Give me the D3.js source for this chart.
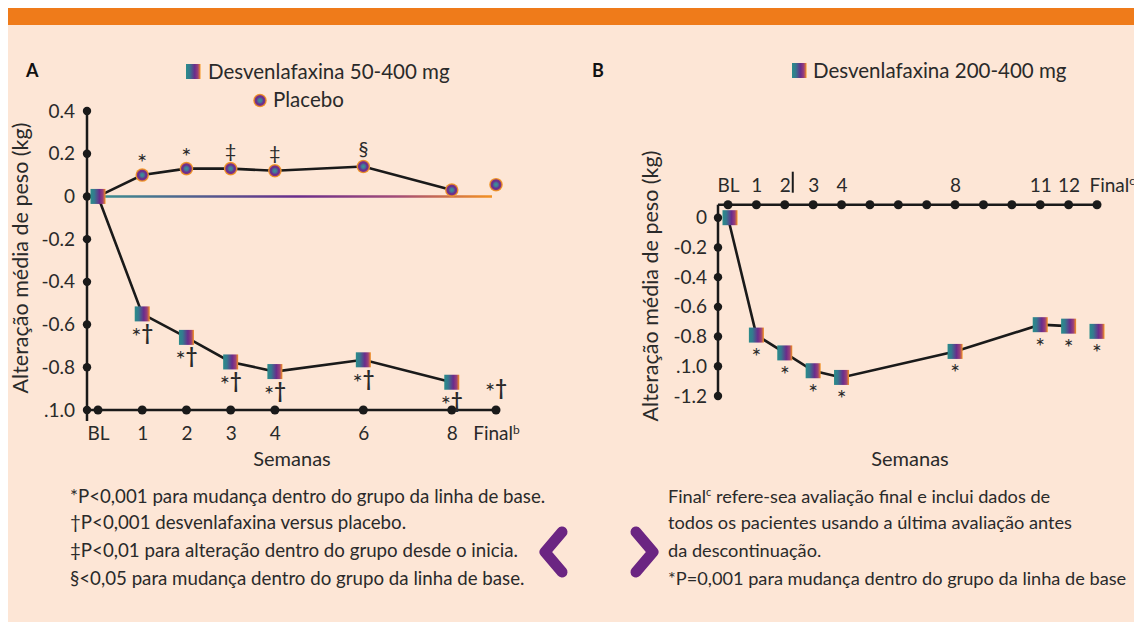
<!DOCTYPE html>
<html><head><meta charset="utf-8">
<script src="https://cdn.jsdelivr.net/npm/d3@7/dist/d3.min.js"></script>
<style>
html,body{margin:0;padding:0;background:#fff;}
svg{display:block;font-family:Lato,"Noto Sans",sans-serif;}
</style></head>
<body>
<svg id="c" width="1134" height="623"></svg>
<script>
// ---------- DATA ----------
// Panel A
const catPosA = [0, 1, 2, 3, 4, 6, 8, 9];
const catLabelsA = ["BL", "1", "2", "3", "4", "6", "8", "Final"];
const yTicksA = [0.4, 0.2, 0, -0.2, -0.4, -0.6, -0.8, -1.0];
const yTickLabelsA = ["0.4", "0.2", "0", "-0.2", "-0.4", "-0.6", "-0.8", ".1.0"];
const desvPosA = [0, 1, 2, 3, 4, 6, 8];
const desvValA = [0, -0.55, -0.66, -0.775, -0.82, -0.765, -0.87];
const desvNoteA = ["", "*†", "*†", "*†", "*†", "*†", "*†"];
const desvFinalNoteA = { pos: 9, value: -0.81, text: "*†" };
const placPosA = [0, 1, 2, 3, 4, 6, 8];
const placValA = [0, 0.10, 0.13, 0.13, 0.12, 0.14, 0.03];
const placNoteA = ["", "*", "*", "‡", "‡", "§", ""];
const placFinalA = { pos: 9, value: 0.055 };
// Panel B
const tickPosB = [0,1,2,3,4,5,6,7,8,9,10,11,12,13];
const labelPosB = [0, 1, 2, 3, 4, 8, 11, 12, 13];
const labelTextB = ["BL", "1", "2", "3", "4", "8", "11", "12", "Final"];
const yTicksB = [0, -0.2, -0.4, -0.6, -0.8, -1.0, -1.2];
const yTickLabelsB = ["0", "-0.2", "-0.4", "-0.6", "-0.8", ".1.0", "-1.2"];
const desvPosB = [0, 1, 2, 3, 4, 8, 11, 12];
const desvValB = [0, -0.79, -0.91, -1.03, -1.075, -0.90, -0.72, -0.73];
const desvNoteB = ["", "*", "*", "*", "*", "*", "*", "*"];
const desvFinalB = { pos: 13, value: -0.765, text: "*" };
// Texts
const legendA = ["Desvenlafaxina 50-400 mg", "Placebo"];
const legendB = "Desvenlafaxina 200-400 mg";
const yTitle = "Alteração média de peso (kg)";
const xTitle = "Semanas";
const notesA = [
  "*P<0,001 para mudança dentro do grupo da linha de base.",
  "†P<0,001 desvenlafaxina versus placebo.",
  "‡P<0,01 para alteração dentro do grupo desde o inicia.",
  "§<0,05 para mudança dentro do grupo da linha de base."
];
const notesB = [
  ["Final", "c", " refere-sea avaliação final e inclui dados de"],
  ["todos os pacientes usando a última avaliação antes"],
  ["da descontinuação."],
  ["*P=0,001 para mudança dentro do grupo da linha de base"]
];

// ---------- DRAW ----------
const svg = d3.select("#c");
const W = 1134, H = 623;
const ink = "#1a1a1a", txt = "#2a2a2a";

const defs = svg.append("defs");
const sq = defs.append("linearGradient").attr("id","sqg").attr("x1","0").attr("x2","1").attr("y1","0").attr("y2","0");
[[0,"#2a8c8a"],[0.25,"#347a8e"],[0.6,"#6a2c8c"],[0.82,"#9a4079"],[1,"#f6941e"]].forEach(s=>sq.append("stop").attr("offset",s[0]).attr("stop-color",s[1]));
const cg = defs.append("radialGradient").attr("id","cg");
[[0,"#3a9a90"],[0.3,"#46739a"],[0.55,"#6a2d8c"],[0.72,"#7a3286"],[0.84,"#e08430"],[1,"#f7a232"]].forEach(s=>cg.append("stop").attr("offset",s[0]).attr("stop-color",s[1]));

// background
svg.append("rect").attr("x",8).attr("y",8).attr("width",W-8).attr("height",614).attr("fill","#fde6d6");
svg.append("rect").attr("x",8).attr("y",8).attr("width",W-8).attr("height",17).attr("fill","#ef7b1a");

// ===== Panel A =====
const xA = d3.scaleLinear().domain([0, 9]).range([98, 496]);
const yA = d3.scaleLinear().domain([-1.0, 0.4]).range([410, 111]);
const axXA = 87;
const gA = svg.append("g");

const blg = defs.append("linearGradient").attr("id","blg").attr("gradientUnits","userSpaceOnUse")
  .attr("x1", xA(0)).attr("x2", xA(9)).attr("y1",0).attr("y2",0);
[[0,"#3a8f8f"],[0.5,"#6a2d8c"],[0.75,"#a34c78"],[1,"#f7941d"]].forEach(s=>blg.append("stop").attr("offset",s[0]).attr("stop-color",s[1]));

gA.append("line").attr("x1",axXA).attr("x2",axXA).attr("y1",yA(0.4)).attr("y2",yA(-1.0)+11).attr("stroke",ink).attr("stroke-width",2.5);
gA.append("line").attr("x1",axXA).attr("x2",xA(9)).attr("y1",yA(-1.0)).attr("y2",yA(-1.0)).attr("stroke",ink).attr("stroke-width",2.5);
const yAxA = gA.append("g").attr("transform",`translate(${axXA},0)`)
  .call(d3.axisLeft(yA).tickValues(yTicksA).tickFormat((d,i)=>yTickLabelsA[i]).tickSize(0).tickPadding(12));
yAxA.select(".domain").remove();
yAxA.selectAll("text").attr("font-size",19).attr("fill",txt).attr("font-family","Lato");
gA.selectAll(".ydA").data(yTicksA).join("circle").attr("cx",axXA).attr("cy",d=>yA(d)).attr("r",4.2).attr("fill",ink);
const xAxA = gA.append("g").attr("transform",`translate(0,${yA(-1.0)})`)
  .call(d3.axisBottom(xA).tickValues(catPosA).tickFormat((d,i)=>catLabelsA[i]).tickSize(0).tickPadding(17));
xAxA.select(".domain").remove();
xAxA.selectAll("text").attr("font-size",19).attr("fill",txt).attr("font-family","Lato");
xAxA.selectAll("text").filter((d,i)=>catLabelsA[i]==="Final").append("tspan").attr("font-size",12).attr("dy","-0.55em").text("b");
gA.selectAll(".xdA").data(catPosA).join("circle").attr("cx",d=>xA(d)).attr("cy",yA(-1.0)).attr("r",4.5).attr("fill",ink);

gA.append("line").attr("x1",xA(0)).attr("x2",xA(9)-4).attr("y1",yA(0)).attr("y2",yA(0)).attr("stroke","url(#blg)").attr("stroke-width",2.5);

const line = d3.line();
gA.append("path").attr("d", line(placPosA.map((p,i)=>[xA(p), yA(placValA[i])]))).attr("fill","none").attr("stroke",ink).attr("stroke-width",2.6);
gA.append("path").attr("d", line(desvPosA.map((p,i)=>[xA(p), yA(desvValA[i])]))).attr("fill","none").attr("stroke",ink).attr("stroke-width",2.6);

const plA = placPosA.map((p,i)=>({p, v:placValA[i], n:placNoteA[i]})).filter(d=>d.p>0);
plA.push({p:placFinalA.pos, v:placFinalA.value, n:""});
gA.selectAll(".pc").data(plA).join("circle").attr("cx",d=>xA(d.p)).attr("cy",d=>yA(d.v)).attr("r",6.8).attr("fill","url(#cg)");
gA.selectAll(".pn").data(plA.filter(d=>d.n)).join("text").attr("x",d=>xA(d.p)).attr("y",d=>yA(d.v)-(d.n==="*"?4:11))
  .attr("text-anchor","middle").attr("font-size",d=>d.n==="*"?24:20).attr("fill",txt).text(d=>d.n);

const dsA = desvPosA.map((p,i)=>({p, v:desvValA[i], n:desvNoteA[i]}));
gA.selectAll(".ds").data(dsA).join("rect").attr("x",d=>xA(d.p)-7.5).attr("y",d=>yA(d.v)-7.5).attr("width",15).attr("height",15).attr("fill","url(#sqg)");
const notesDA = dsA.filter(d=>d.n).concat([{p:desvFinalNoteA.pos, v:desvFinalNoteA.value, n:desvFinalNoteA.text}]);
gA.selectAll(".dn").data(notesDA).join("text").attr("x",d=>xA(d.p)).attr("y",d=>yA(d.v)+26)
  .attr("text-anchor","middle").attr("fill",txt)
  .each(function(d){
    const t = d3.select(this);
    t.append("tspan").attr("font-size",24).attr("dy",5).text("*");
    t.append("tspan").attr("font-size",20).attr("font-weight","bold").attr("dy",-5).text("†");
  });

gA.append("text").attr("x",26).attr("y",77).attr("font-size",18).attr("font-weight","bold").attr("fill","#111").text("A");
gA.append("text").attr("transform",`translate(28,258) rotate(-90)`).attr("text-anchor","middle").attr("font-size",21.5).attr("fill",txt).text(yTitle);
gA.append("text").attr("x",292).attr("y",466).attr("text-anchor","middle").attr("font-size",20).attr("fill",txt).text(xTitle);
gA.append("rect").attr("x",186).attr("y",64).attr("width",14.5).attr("height",15).attr("fill","url(#sqg)");
gA.append("text").attr("x",208).attr("y",78.5).attr("font-size",20.5).attr("fill",txt).text(legendA[0]);
gA.append("circle").attr("cx",260).attr("cy",100.5).attr("r",6.8).attr("fill","url(#cg)");
gA.append("text").attr("x",273).attr("y",107).attr("font-size",20.5).attr("fill",txt).text(legendA[1]);

// ===== Panel B =====
const xB = d3.scaleLinear().domain([0, 13]).range([728, 1097]);
const yB = d3.scaleLinear().domain([-1.2, 0]).range([396, 217.7]);
const axXB = 718, axYB = yB(0) - 13;
const gB = svg.append("g");
gB.append("line").attr("x1",axXB).attr("x2",axXB).attr("y1",axYB).attr("y2",yB(-1.2)).attr("stroke",ink).attr("stroke-width",2.5);
gB.append("line").attr("x1",axXB).attr("x2",xB(13)).attr("y1",axYB).attr("y2",axYB).attr("stroke",ink).attr("stroke-width",2.5);
const yAxB = gB.append("g").attr("transform",`translate(${axXB},0)`)
  .call(d3.axisLeft(yB).tickValues(yTicksB).tickFormat((d,i)=>yTickLabelsB[i]).tickSize(0).tickPadding(11));
yAxB.select(".domain").remove();
yAxB.selectAll("text").attr("font-size",19).attr("fill",txt).attr("font-family","Lato");
gB.selectAll(".ydB").data(yTicksB).join("circle").attr("cx",axXB).attr("cy",d=>yB(d)).attr("r",4.2).attr("fill",ink);
gB.selectAll(".xdB").data(tickPosB).join("circle").attr("cx",d=>xB(d)).attr("cy",axYB).attr("r",4.5).attr("fill",ink);
const xAxB = gB.append("g").attr("transform",`translate(0,${axYB})`)
  .call(d3.axisTop(xB).tickValues(labelPosB).tickFormat((d,i)=>labelTextB[i]).tickSize(0).tickPadding(13));
xAxB.select(".domain").remove();
xAxB.selectAll("text").attr("font-size",19).attr("fill",txt).attr("font-family","Lato");
const finB = xAxB.selectAll("text").filter((d,i)=>labelTextB[i]==="Final").attr("text-anchor","start").attr("dx",-8);
finB.append("tspan").attr("font-size",12).attr("dy","-0.55em").text("c");
gB.append("line").attr("x1",xB(2)+8).attr("x2",xB(2)+8).attr("y1",axYB-33).attr("y2",axYB-12).attr("stroke",ink).attr("stroke-width",2);

gB.append("path").attr("d", line(desvPosB.map((p,i)=>[xB(p), yB(desvValB[i])]))).attr("fill","none").attr("stroke",ink).attr("stroke-width",2.6);
const dsB = desvPosB.map((p,i)=>({p, v:desvValB[i], n:desvNoteB[i]}));
dsB.push({p:desvFinalB.pos, v:desvFinalB.value, n:desvFinalB.text});
gB.selectAll(".dsb").data(dsB).join("rect").attr("x",d=>xB(d.p)-7.5+(d.p===0?2:0)).attr("y",d=>yB(d.v)-7.5).attr("width",15).attr("height",15).attr("fill","url(#sqg)");
gB.selectAll(".dnb").data(dsB.filter(d=>d.n)).join("text").attr("x",d=>xB(d.p)).attr("y",d=>yB(d.v)+30)
  .attr("text-anchor","middle").attr("font-size",23).attr("fill",txt).text(d=>d.n);

gB.append("text").attr("x",592).attr("y",77).attr("font-size",18).attr("font-weight","bold").attr("fill","#111").text("B");
gB.append("text").attr("transform",`translate(658,286) rotate(-90)`).attr("text-anchor","middle").attr("font-size",21.5).attr("fill",txt).text(yTitle);
gB.append("text").attr("x",910).attr("y",466).attr("text-anchor","middle").attr("font-size",20).attr("fill",txt).text(xTitle);
gB.append("rect").attr("x",792).attr("y",63).attr("width",14.5).attr("height",15).attr("fill","url(#sqg)");
gB.append("text").attr("x",813).attr("y",78).attr("font-size",20.5).attr("fill",txt).text(legendB);

// ===== Footnotes =====
const fy = [503, 529, 557, 585];
svg.selectAll(".na").data(notesA).join("text").attr("x",70).attr("y",(d,i)=>fy[i]).attr("font-size",18.7).attr("fill",txt).text(d=>d);
const nb = svg.selectAll(".nb").data(notesB).join("text").attr("x",668).attr("y",(d,i)=>fy[i]).attr("font-size",18.2).attr("fill",txt);
nb.each(function(parts){
  const t = d3.select(this);
  if (parts.length === 3) {
    t.append("tspan").text(parts[0]);
    t.append("tspan").attr("font-size",11).attr("dy",-7).text(parts[1]);
    t.append("tspan").attr("dy",7).text(parts[2]);
  } else t.text(parts[0]);
});

const purple = "#6b2582";
svg.append("path").attr("d","M562,532 L545,552 L562,572").attr("fill","none").attr("stroke",purple).attr("stroke-width",11).attr("stroke-linecap","round").attr("stroke-linejoin","round");
svg.append("path").attr("d","M636,532 L653,552 L636,572").attr("fill","none").attr("stroke",purple).attr("stroke-width",11).attr("stroke-linecap","round").attr("stroke-linejoin","round");
</script>
</body></html>
